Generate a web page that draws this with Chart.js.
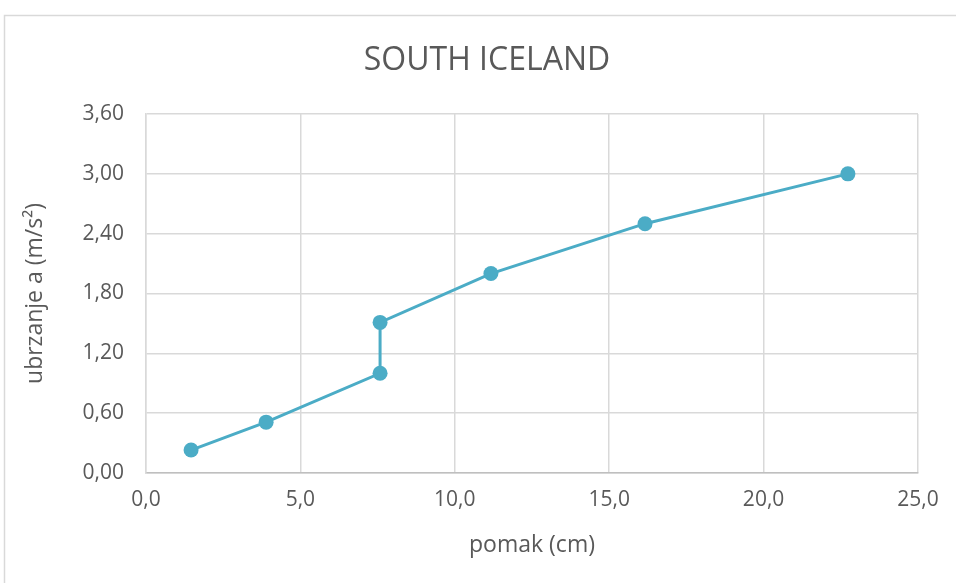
<!DOCTYPE html>
<html>
<head>
<meta charset="utf-8">
<script src="https://cdn.jsdelivr.net/npm/chart.js@4"></script>
<style>
  html, body { margin: 0; padding: 0; background: #fff; }
  #wrap { width: 956px; height: 583px; }
</style>
</head>
<body>
<div id="wrap"><canvas id="myChart" width="956" height="583"></canvas></div>
<script>
// pomak (cm) vs ubrzanje (m/s2)
const pomak = [1.46, 3.89, 7.58, 7.58, 11.17, 16.16, 22.73];
const ubrzanje = [0.23, 0.51, 1.00, 1.51, 2.00, 2.50, 3.00];
const xTicks = [0, 5, 10, 15, 20, 25];
const yTicks = [0, 0.6, 1.2, 1.8, 2.4, 3.0, 3.6];
const chartTitle = 'SOUTH ICELAND';

const FONT = "'Open Sans', 'Liberation Sans', sans-serif";
const TXT = '#595959';
const GRID = '#d9d9d9';

// outer box + title (title is offset from the plot centre, like the original)
const frame = {
  id: 'frame',
  beforeDraw(chart) {
    const ctx = chart.ctx;
    ctx.save();
    ctx.fillStyle = '#fff';
    ctx.fillRect(0, 0, chart.width, chart.height);
    ctx.strokeStyle = GRID;
    ctx.lineWidth = 1.5;
    ctx.beginPath();
    ctx.moveTo(4.5, chart.height);
    ctx.lineTo(4.5, 15.5);
    ctx.lineTo(chart.width, 15.5);
    ctx.stroke();
    ctx.restore();
  },
  afterDraw(chart) {
    const ctx = chart.ctx;
    ctx.save();
    ctx.fillStyle = TXT;
    ctx.font = '32px ' + FONT;
    ctx.textAlign = 'center';
    ctx.textBaseline = 'middle';
    ctx.fillText(chartTitle, 487, 61);
    ctx.restore();
  }
};

new Chart(document.getElementById('myChart'), {
  type: 'line',
  data: {
    datasets: [{
      label: chartTitle,
      data: pomak.map((x, i) => ({ x: x, y: ubrzanje[i] })),
      borderColor: '#4bacc6',
      backgroundColor: '#4bacc6',
      borderWidth: 3,
      pointRadius: 7.5,
      pointHoverRadius: 7.5,
      pointBorderWidth: 0,
      fill: false,
      tension: 0
    }]
  },
  plugins: [frame],
  options: {
    responsive: false,
    animation: false,
    layout: { padding: { top: 114, left: 0, right: 38, bottom: 0 } },
    plugins: {
      legend: { display: false },
      tooltip: { enabled: false },
      title: { display: false }
    },
    scales: {
      x: {
        type: 'linear',
        min: 0,
        max: 25,
        afterBuildTicks: (s) => { s.ticks = xTicks.map(v => ({ value: v })); },
        afterFit: (s) => { s.height = 110; },
        ticks: {
          color: TXT,
          font: { family: FONT, size: 21 },
          padding: 14,
          maxRotation: 0,
          callback: (v) => v.toFixed(1).replace('.', ',')
        },
        grid: { color: GRID, lineWidth: 1.5, drawTicks: false },
        border: { color: '#bfbfbf', width: 1.5 },
        title: {
          display: true,
          text: 'pomak (cm)',
          color: TXT,
          font: { family: FONT, size: 23 },
          padding: { top: 0, bottom: 24 }
        }
      },
      y: {
        type: 'linear',
        min: 0,
        max: 3.6,
        afterBuildTicks: (s) => { s.ticks = yTicks.map(v => ({ value: v })); },
        afterFit: (s) => { s.width = 146; },
        ticks: {
          color: TXT,
          font: { family: FONT, size: 21 },
          padding: 22,
          callback: (v) => v.toFixed(2).replace('.', ',')
        },
        grid: { color: GRID, lineWidth: 1.5, drawTicks: false },
        border: { color: GRID, width: 1.5 },
        title: {
          display: true,
          text: 'ubrzanje a (m/s²)',
          color: TXT,
          font: { family: FONT, size: 23 },
          padding: { top: 22, bottom: 0 }
        }
      }
    }
  }
});
</script>
</body>
</html>
